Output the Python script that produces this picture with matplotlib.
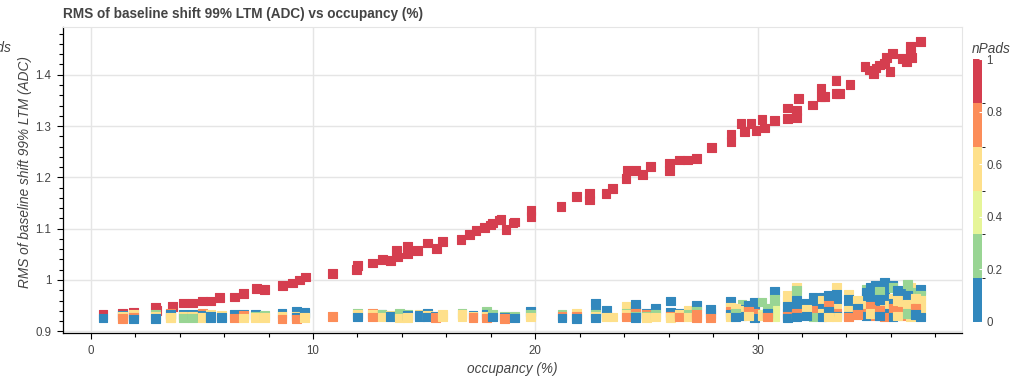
import numpy as np
import matplotlib
matplotlib.use("Agg")
import matplotlib.pyplot as plt
from matplotlib.colors import ListedColormap, BoundaryNorm
from matplotlib.cm import ScalarMappable
from matplotlib.ticker import MultipleLocator, FuncFormatter

plt.rcParams['font.family'] = ['Liberation Sans', 'DejaVu Sans']

# nPads fraction levels used below
B, G, L, Y, O, R = 0.08, 0.25, 0.42, 0.58, 0.75, 1.0

# Runs where all pads contribute (nPads = 1)
occ_full = [0.55, 1.44, 1.92, 2.91, 2.95, 3.66, 4.17, 4.58, 5.03, 5.40, 5.79, 6.46, 6.87,
            7.44, 7.81, 8.62, 9.07, 9.39, 9.66, 10.87, 11.94, 12.00, 12.68, 13.13, 13.50,
            13.74, 13.80, 14.26, 14.26, 14.71, 15.16, 15.54, 15.84, 16.66, 17.03, 17.33,
            17.71, 18.00, 18.08, 18.39, 18.46, 18.68, 19.00, 19.06, 19.81, 19.81, 21.16,
            21.84, 22.43, 22.43, 23.18, 23.48, 24.08, 24.15, 24.53, 24.83, 25.20, 26.03,
            26.03, 26.48, 26.86, 27.26, 27.94, 28.81, 28.81, 29.26, 29.40, 29.71, 29.93,
            30.20, 30.31, 30.75, 31.35, 31.35, 31.76, 31.76, 31.85, 32.48, 32.86, 32.86,
            33.00, 33.53, 33.53, 33.70, 34.16, 34.84, 35.03, 35.21, 35.33, 35.48, 35.70,
            35.80, 35.96, 36.08, 36.53, 36.71, 36.87, 36.87, 36.95, 37.35]
rms_full = [0.933, 0.935, 0.936, 0.946, 0.940, 0.948, 0.955, 0.955, 0.959, 0.959, 0.966, 0.967, 0.974,
            0.984, 0.981, 0.990, 0.994, 1.000, 1.006, 1.013, 1.020, 1.029, 1.033, 1.040, 1.038,
            1.057, 1.045, 1.052, 1.065, 1.058, 1.072, 1.062, 1.075, 1.079, 1.088, 1.097,
            1.103, 1.107, 1.111, 1.117, 1.118, 1.099, 1.111, 1.113, 1.136, 1.123, 1.143,
            1.162, 1.169, 1.156, 1.169, 1.179, 1.198, 1.214, 1.214, 1.205, 1.221, 1.228,
            1.214, 1.234, 1.234, 1.236, 1.258, 1.283, 1.270, 1.305, 1.289, 1.305, 1.291,
            1.312, 1.296, 1.311, 1.335, 1.315, 1.331, 1.317, 1.353, 1.341, 1.374, 1.357,
            1.357, 1.388, 1.364, 1.364, 1.381, 1.416, 1.409, 1.403, 1.413, 1.419, 1.422,
            1.434, 1.406, 1.442, 1.432, 1.425, 1.455, 1.442, 1.434, 1.464]

# Partial-coverage entries, grouped per run
part_occ = [0.55, 1.44, 1.92, 2.91, 3.60, 4.17, 4.59, 5.04, 5.40, 5.87, 6.46, 6.87, 7.40, 7.81,
            8.60, 9.24, 9.61, 10.87, 12.00, 12.67, 13.10, 13.50, 13.90, 14.26, 14.80, 15.15,
            15.50, 15.84, 16.70, 17.20, 17.80, 18.07, 18.60, 19.07, 19.80, 21.20, 21.85, 22.70,
            23.20, 23.50, 24.10, 24.50, 25.00, 25.40, 26.10, 26.50, 26.90, 27.24, 27.90, 28.80,
            29.30, 29.85, 30.20, 30.75, 31.35, 31.75, 32.50, 32.90, 33.55, 34.10, 34.90, 35.30,
            35.70, 36.10, 36.50, 36.90, 37.35,
            29.00, 29.60, 30.45, 32.20, 33.20, 34.50, 35.10, 35.50, 36.30, 36.75, 37.10]
part_rms = [
    [0.926], [0.931, 0.929, 0.925], [0.932, 0.928, 0.924], [0.932, 0.930, 0.925],
    [0.935, 0.933, 0.927, 0.926], [0.933, 0.930, 0.926], [0.933, 0.930, 0.926],
    [0.934, 0.931, 0.927], [0.932, 0.929, 0.927], [0.931, 0.927], [0.932, 0.926],
    [0.933, 0.931, 0.926], [0.932, 0.930, 0.927], [0.931, 0.927], [0.934, 0.929, 0.924],
    [0.938, 0.930, 0.928, 0.924], [0.937, 0.935, 0.927], [0.929], [0.934, 0.932, 0.928],
    [0.935, 0.932, 0.928], [0.933, 0.932, 0.928], [0.931, 0.929], [0.934, 0.930, 0.926],
    [0.932, 0.931, 0.927], [0.933, 0.931, 0.929], [0.934, 0.931, 0.928], [0.930, 0.927],
    [0.933, 0.929], [0.934, 0.932, 0.928], [0.931, 0.929, 0.927], [0.938, 0.932, 0.930, 0.926],
    [0.933, 0.928], [0.930, 0.928, 0.925], [0.930, 0.926], [0.939, 0.933, 0.928],
    [0.932, 0.930, 0.926], [0.934, 0.929, 0.925], [0.955, 0.937, 0.932, 0.930, 0.926],
    [0.940, 0.930, 0.928], [0.928], [0.949, 0.935, 0.932, 0.928],
    [0.953, 0.940, 0.935, 0.930, 0.927], [0.935, 0.932, 0.930, 0.927], [0.945, 0.933, 0.928],
    [0.959, 0.936, 0.930, 0.927], [0.935, 0.932, 0.928], [0.940, 0.933, 0.928],
    [0.951, 0.938, 0.932, 0.926], [0.943, 0.934, 0.926], [0.958, 0.946, 0.938, 0.933, 0.928],
    [0.952, 0.943, 0.940, 0.930], [0.957, 0.948, 0.935, 0.926], [0.957, 0.932, 0.930],
    [0.978, 0.962, 0.951, 0.940, 0.928], [0.970, 0.958, 0.948, 0.935, 0.930, 0.926],
    [0.986, 0.980, 0.960, 0.945, 0.935, 0.932, 0.928], [0.966, 0.950, 0.940, 0.930, 0.928],
    [0.966, 0.960, 0.945, 0.935, 0.928], [0.985, 0.972, 0.960, 0.945, 0.935, 0.930, 0.928],
    [0.972, 0.962, 0.950, 0.940, 0.930, 0.928], [0.982, 0.975, 0.965, 0.950, 0.935, 0.930],
    [0.990, 0.970, 0.960, 0.955, 0.945, 0.940, 0.930], [0.995, 0.975, 0.960, 0.950, 0.935, 0.928],
    [0.990, 0.985, 0.965, 0.955, 0.945, 0.932, 0.928], [0.975, 0.950, 0.940, 0.930],
    [0.985, 0.975, 0.965, 0.955, 0.945, 0.940, 0.930, 0.928],
    [0.982, 0.970, 0.960, 0.950, 0.940, 0.928],
    [0.945, 0.935, 0.928], [0.950, 0.938, 0.930], [0.945, 0.935, 0.928],
    [0.955, 0.942, 0.930], [0.970, 0.950, 0.938, 0.928], [0.960, 0.945, 0.932],
    [0.985, 0.968, 0.948, 0.935], [0.978, 0.962, 0.940, 0.930],
    [0.980, 0.960, 0.938, 0.930], [0.992, 0.970, 0.952, 0.935], [0.965, 0.945, 0.932]]
part_npads = [
    [B], [B, Y, O], [Y, O, B], [G, Y, B],
    [O, B, Y, Y], [B, Y, G], [B, Y, G],
    [O, B, Y], [Y, B, B], [Y, B], [B, O],
    [B, O, Y], [B, G, Y], [G, Y], [B, Y, O],
    [B, Y, B, O], [B, B, Y], [O], [G, Y, B],
    [O, Y, O], [B, G, Y], [Y, B], [G, G, Y],
    [G, B, Y], [Y, B, B], [B, Y, B], [B, O],
    [Y, Y], [G, Y, Y], [B, Y, O], [G, B, Y, O],
    [G, B], [G, B, O], [G, B], [B, G, Y],
    [G, O, B], [Y, O, B], [B, B, G, Y, B],
    [B, B, Y], [Y], [Y, G, Y, O],
    [B, B, O, G, B], [B, O, G, Y], [B, G, Y],
    [B, B, O, Y], [B, Y, O], [Y, G, Y],
    [B, G, O, O], [B, B, O], [B, Y, O, B, Y],
    [G, B, Y, B], [B, B, O, B], [G, L, Y],
    [B, G, G, L, L], [Y, Y, B, B, O, B],
    [Y, G, B, B, O, O, B], [B, B, O, O, G],
    [B, Y, B, Y, B], [Y, B, B, Y, O, B, Y],
    [Y, B, B, Y, B, O], [G, B, B, Y, O, B],
    [B, Y, G, O, B, Y, O], [B, B, B, Y, B, O],
    [B, G, Y, B, O, O, B], [B, Y, Y, O],
    [Y, G, Y, Y, O, B, O, Y],
    [B, G, Y, Y, Y, B],
    [Y, G, B], [B, O, Y], [G, B, O],
    [B, Y, B], [B, O, B, Y], [Y, B, O],
    [B, B, O, Y], [G, B, O, B],
    [B, Y, O, Y], [G, B, Y, G], [Y, O, B]]

cbar_ticks = [0, 0.2, 0.4, 0.6, 0.8, 1]
palette = ['#3288bd', '#99d594', '#e6f598', '#fee08b', '#fc8d59', '#d53e4f']

W, H = 1011, 378
fig = plt.figure(figsize=(W / 100, H / 100), dpi=100)


def px_rect(left, top, right, bottom):
    return [left / W, 1 - bottom / H, (right - left) / W, (bottom - top) / H]


ax = fig.add_axes(px_rect(63, 27, 962, 333))
cax = fig.add_axes(px_rect(973, 59, 982, 322))

cmap = ListedColormap(palette)
norm = BoundaryNorm(np.linspace(0, 1, 7), cmap.N)

x_part = np.concatenate([[o] * len(r) for o, r in zip(part_occ, part_rms)])
y_part = np.concatenate(part_rms)
c_part = np.concatenate(part_npads)

kw = dict(marker='s', s=40, cmap=cmap, norm=norm, linewidths=0.8,
          edgecolors='face', zorder=3)
ax.scatter(occ_full, rms_full, c=[R] * len(occ_full), **kw)
ax.scatter(x_part, y_part, c=c_part, **kw)

ax.set_xlim(-1.25, 39.2)
ax.set_ylim(0.8967, 1.493)

ax.xaxis.set_major_locator(MultipleLocator(10))
ax.xaxis.set_minor_locator(MultipleLocator(2))
ax.yaxis.set_major_locator(MultipleLocator(0.1))
ax.yaxis.set_minor_locator(MultipleLocator(0.02))
ax.yaxis.set_major_formatter(FuncFormatter(lambda v, p: f"{v:.10g}" if abs(v - round(v)) > 1e-9 else f"{int(round(v))}"))

ax.grid(True, which='major', color='#e5e5e5', linewidth=1.0, zorder=0)
ax.set_axisbelow(True)
for side in ('top', 'right'):
    ax.spines[side].set_color('#e5e5e5')
    ax.spines[side].set_linewidth(0.8)
for side in ('left', 'bottom'):
    ax.spines[side].set_color('black')
    ax.spines[side].set_linewidth(0.9)

ax.tick_params(which='major', direction='out', length=4.5, width=0.8, color='black',
               labelsize=8.3, labelcolor='#444444', pad=4)
ax.tick_params(which='minor', direction='out', length=3, width=0.8, color='black')

fig.text(63 / W, 1 - 14 / H, 'RMS of baseline shift 99% LTM (ADC) vs occupancy (%)',
         fontsize=9.8, fontweight='bold', color='#444444', ha='left', va='center')
fig.text(25 / W, 1 - 172 / H, 'RMS of baseline shift 99% LTM (ADC)', rotation=90,
         fontsize=9.8, fontstyle='italic', color='#444444', ha='center', va='center')
fig.text(512 / W, 1 - 369 / H, 'occupancy (%)', fontsize=9.8, fontstyle='italic',
         color='#444444', ha='center', va='center')

sm = ScalarMappable(norm=norm, cmap=cmap)
cb = fig.colorbar(sm, cax=cax, ticks=cbar_ticks)
cb.outline.set_visible(False)
cb.set_ticklabels([f"{t:g}" for t in cbar_ticks])
cax.tick_params(direction='in', length=2.5, width=0.8, color='white',
                labelsize=8.3, labelcolor='#444444', pad=3)

fig.text(972 / W, 1 - 49 / H, 'nPads', fontsize=9.8, fontstyle='italic',
         color='#444444', ha='left', va='center')
fig.text(12 / W, 1 - 48 / H, 'nPads', fontsize=9.8, fontstyle='italic',
         color='#444444', ha='right', va='center')

fig.savefig('out.png', dpi=100)
